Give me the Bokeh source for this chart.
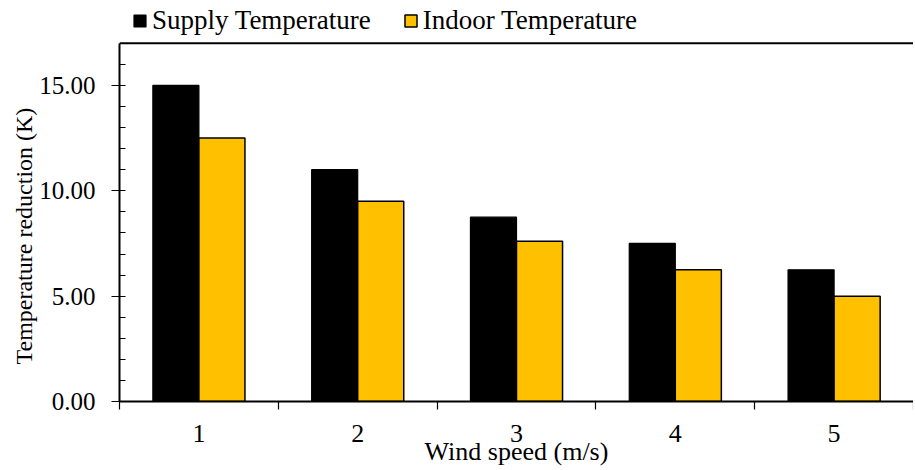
from bokeh.plotting import figure
from bokeh.models import (Range1d, FixedTicker, NumeralTickFormatter, Legend, LegendItem,
                          Span, Title, ColumnDataSource)
from bokeh.embed import file_html
from bokeh.resources import INLINE

wind_speed = [1, 2, 3, 4, 5]
tick_labels = ["1", "2", "3", "4", "5"]
supply_temp = [15.0, 11.0, 8.75, 7.5, 6.25]
indoor_temp = [12.5, 9.5, 7.6, 6.25, 5.0]
y_ticks = [0, 5, 10, 15]
y_max = 17

FONT = "Liberation Serif"
bar_w = 0.29

src = ColumnDataSource(dict(
    x_s=[w - bar_w / 2 for w in wind_speed],
    x_i=[w + bar_w / 2 for w in wind_speed],
    supply=supply_temp,
    indoor=indoor_temp,
))

H = 468
border_bottom = 65
frame_h = H - border_bottom          # frame reaches to the very top so the legend is not clipped
axis_px = 360                        # pixel height of the 0..17 axis
y_top = y_max * frame_h / axis_px

p = figure(width=913, height=H, output_backend="svg", toolbar_location=None,
           x_range=Range1d(0.5, 5.5), y_range=Range1d(0, y_top),
           min_border_left=119, min_border_right=0, min_border_top=0, min_border_bottom=border_bottom)
p.outline_line_color = None
p.xgrid.visible = False
p.ygrid.visible = False
p.background_fill_color = "white"
p.border_fill_color = "white"

r1 = p.vbar(x="x_s", top="supply", width=bar_w, source=src,
            fill_color="black", line_color="black", line_width=1.2)
r2 = p.vbar(x="x_i", top="indoor", width=bar_w, source=src,
            fill_color="#FFC000", line_color="black", line_width=1.5)

# top border of the plot area
p.add_layout(Span(location=y_max, dimension="width", line_color="black", line_width=2))

# x axis
xa = p.xaxis[0]
xa.ticker = FixedTicker(ticks=wind_speed, minor_ticks=[w - 0.5 for w in wind_speed] + [wind_speed[-1] + 0.5])
xa.major_label_overrides = {w: t for w, t in zip(wind_speed, tick_labels)}
xa.major_tick_out = 0
xa.major_tick_in = 0
xa.minor_tick_out = 8
xa.minor_tick_in = 0
xa.axis_line_width = 2
xa.axis_line_color = "black"
xa.minor_tick_line_color = "black"
xa.minor_tick_line_width = 1.2
xa.major_label_text_font = FONT
xa.major_label_text_font_size = "26px"
xa.major_label_text_color = "black"
xa.major_label_standoff = 15
xa.axis_label = "Wind speed (m/s)"
xa.axis_label_text_font = FONT
xa.axis_label_text_font_size = "26px"
xa.axis_label_text_font_style = "normal"
xa.axis_label_text_color = "black"
xa.axis_label_standoff = -8

# y axis
ya = p.yaxis[0]
ya.bounds = (0, y_max)
ya.ticker = FixedTicker(ticks=y_ticks, minor_ticks=list(range(0, y_max + 1)))
ya.formatter = NumeralTickFormatter(format="0.00")
ya.major_tick_out = 8
ya.major_tick_in = 0
ya.minor_tick_in = 6
ya.minor_tick_out = 0
ya.axis_line_width = 2
ya.axis_line_color = "black"
ya.major_tick_line_color = "black"
ya.minor_tick_line_color = "black"
ya.major_tick_line_width = 1.2
ya.minor_tick_line_width = 1.2
ya.major_label_text_font = FONT
ya.major_label_text_font_size = "25px"
ya.major_label_text_color = "black"
ya.major_label_standoff = 16

# y axis title, aligned to the 0..17 axis rather than the whole frame
ytitle = Title(text="Temperature reduction (K)", align="left", offset=37,
               text_font=FONT, text_font_size="24px", text_font_style="normal",
               text_color="black", standoff=0)
p.add_layout(ytitle, "left")

legend = Legend(items=[LegendItem(label="Supply Temperature", renderers=[r1]),
                       LegendItem(label="Indoor Temperature", renderers=[r2])],
                orientation="horizontal", location=(13, frame_h - 38),
                label_text_font=FONT, label_text_font_size="27px", label_text_color="black",
                glyph_width=15, glyph_height=15, label_standoff=5, spacing=32,
                padding=4, margin=0, border_line_color=None, background_fill_alpha=0)
p.add_layout(legend)

open("out.html", "w").write(file_html(p, INLINE))
